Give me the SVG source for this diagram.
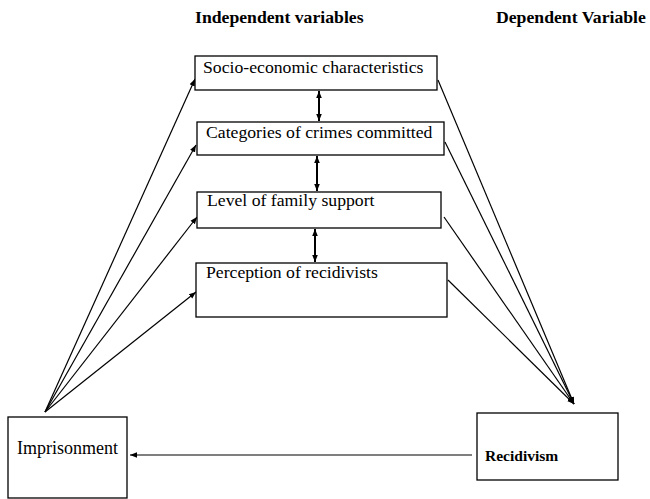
<svg xmlns="http://www.w3.org/2000/svg" width="650" height="499" viewBox="0 0 650 499">
<defs>
<marker id="ah" viewBox="0 0 10 10" refX="10" refY="5" markerWidth="7" markerHeight="7" markerUnits="userSpaceOnUse" orient="auto-start-reverse">
<path d="M0,1 L10,5 L0,9 z" fill="#000"/>
</marker>
<style>
.box{fill:#fff;stroke:#000;stroke-width:1.3}
.t{font-family:"Liberation Serif","Times New Roman","DejaVu Serif",serif;font-size:17.7px;fill:#000}
.h{font-family:"Liberation Serif","Times New Roman","DejaVu Serif",serif;font-size:17.7px;font-weight:bold;fill:#000}
.c{stroke:#000;stroke-width:1.2;fill:none}
.d{stroke:#000;stroke-width:2;fill:none}
</style>
</defs>
<rect width="650" height="499" fill="#fff"/>
<text class="h" x="195" y="23">Independent variables</text>
<text class="h" x="496" y="23" style="font-size:17.7px">Dependent Variable</text>
<g id="connectors">
<line class="c" x1="45" y1="412" x2="195" y2="79" marker-end="url(#ah)"/>
<line class="c" x1="45" y1="412" x2="196" y2="145" marker-end="url(#ah)"/>
<line class="c" x1="45" y1="412" x2="197" y2="217" marker-end="url(#ah)"/>
<line class="c" x1="45" y1="412" x2="196" y2="292" marker-end="url(#ah)"/>
<line class="c" x1="438" y1="80" x2="574" y2="404" marker-end="url(#ah)"/>
<line class="c" x1="445" y1="142" x2="574" y2="404" marker-end="url(#ah)"/>
<line class="c" x1="444" y1="217" x2="574" y2="404" marker-end="url(#ah)"/>
<line class="c" x1="448" y1="280" x2="574" y2="404" marker-end="url(#ah)"/>
<line class="d" x1="319" y1="91" x2="319" y2="121" marker-start="url(#ah)" marker-end="url(#ah)"/>
<line class="d" x1="317" y1="156" x2="317" y2="191" marker-start="url(#ah)" marker-end="url(#ah)"/>
<line class="d" x1="315" y1="229" x2="315" y2="262" marker-start="url(#ah)" marker-end="url(#ah)"/>
<line class="c" x1="472" y1="455" x2="130" y2="455" marker-end="url(#ah)"/>
</g>
<g id="socio"><rect class="box" x="195" y="56" width="242" height="34"/><text class="t" x="203" y="73">Socio-economic characteristics</text></g>
<g id="categories"><rect class="box" x="197" y="122" width="247" height="33"/><text class="t" x="206" y="138">Categories of crimes committed</text></g>
<g id="family"><rect class="box" x="197" y="192" width="244" height="36"/><text class="t" x="207" y="206">Level of family support</text></g>
<g id="perception"><rect class="box" x="196" y="263" width="251" height="54"/><text class="t" x="206" y="278">Perception  of recidivists</text></g>
<g id="imprisonment"><rect class="box" x="8" y="417" width="119" height="81"/><text class="t" x="17" y="454" style="font-size:18px">Imprisonment</text></g>
<g id="recidivism"><rect class="box" x="477" y="413" width="141" height="67"/><text class="h" x="485" y="461" style="font-size:15.5px">Recidivism</text></g>
</svg>
